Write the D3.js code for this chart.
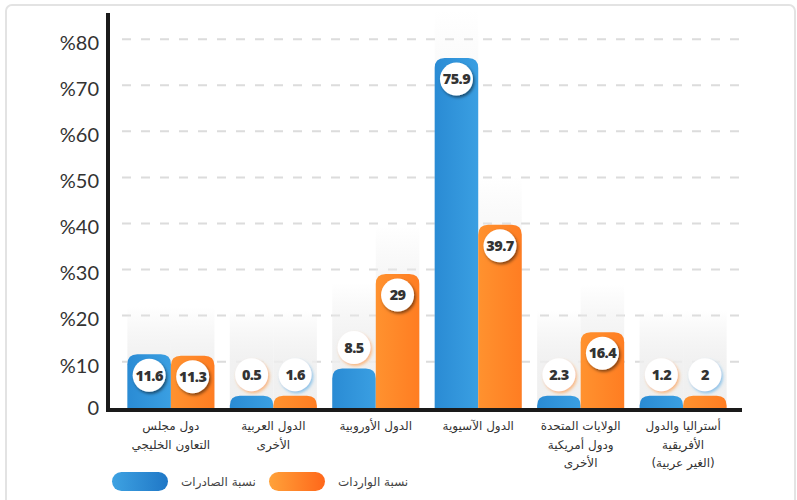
<!DOCTYPE html>
<html>
<head>
<meta charset="utf-8">
<script src="https://cdn.jsdelivr.net/npm/d3@7"></script>
<style>
  body { margin: 0; background: #fff; }
  svg { display: block; }
</style>
</head>
<body>
<div id="chart"></div>
<script>
// data
const categories = [
  ['دول مجلس', 'التعاون الخليجي'],
  ['الدول العربية', 'الأخرى'],
  ['الدول الأوروبية'],
  ['الدول الآسيوية'],
  ['الولايات المتحدة', 'ودول أمريكية', 'الأخرى'],
  ['أستراليا والدول', 'الأفريقية', '(الغير عربية)']
];
const exportsShare = [11.6, 0.5, 8.5, 75.9, 2.3, 1.2];
const importsShare = [11.3, 1.6, 29, 39.7, 16.4, 2];
const seriesNames = ['نسبة الصادرات', 'نسبة الواردات'];
const yTicks = [0, 10, 20, 30, 40, 50, 60, 70, 80];

class GroupedBars {

  constructor(_config) {
    this.config = {
      parentElement: _config.parentElement,
      containerWidth: 797,
      containerHeight: 500,
    }
    this.initVis();
  }

  initVis() {
    let vis = this;

    vis.svg = d3.select(vis.config.parentElement)
      .append('svg')
      .attr('width', vis.config.containerWidth)
      .attr('height', vis.config.containerHeight);

    // scales
    vis.y = d3.scaleLinear().domain([0, 80]).range([407.7, 39.2]);
    vis.x0 = d3.scaleBand().domain(d3.range(categories.length))
      .range([112, 742]).paddingInner(0.15).paddingOuter(0.15);
    vis.x1 = d3.scaleBand().domain([0, 1]).range([0, vis.x0.bandwidth()]);

    // defs
    const defs = vis.svg.append('defs');
    const addGrad = (id, stops, x2, y2) => {
      const g = defs.append('linearGradient').attr('id', id)
        .attr('x1', 0).attr('y1', 0).attr('x2', x2).attr('y2', y2);
      stops.forEach(s => g.append('stop').attr('offset', s[0]).attr('stop-color', s[1]).attr('stop-opacity', s[2] == null ? 1 : s[2]));
    };
    addGrad('barBlue', [[0, '#2a8bd4'], [1, '#3a9fe2']], 1, 0);
    addGrad('barOrange', [[0, '#ff922f'], [1, '#ff7d22']], 1, 0);
    addGrad('pillBlue', [[0, '#3ea2e2'], [1, '#1f77c6']], 1, 0);
    addGrad('pillOrange', [[0, '#ffa23a'], [1, '#ff671a']], 1, 0);
    addGrad('ghost', [[0, '#e8e8e8', 0], [0.5, '#eeeeee', 0.8], [1, '#efefef', 1]], 0, 1);

    const addShadow = (id, color, op) => {
      defs.append('filter').attr('id', id)
        .attr('x', '-50%').attr('y', '-50%').attr('width', '200%').attr('height', '200%')
        .append('feDropShadow').attr('dx', 1.5).attr('dy', 2).attr('stdDeviation', 1.6)
        .attr('flood-color', color).attr('flood-opacity', op);
    };
    addShadow('shadowDark', '#000', 0.5);
    addShadow('shadowBlue', '#3a9fe2', 0.55);
    addShadow('shadowOrange', '#ff8a2c', 0.55);

    // frame
    vis.svg.append('rect')
      .attr('x', 6).attr('y', 5).attr('width', 789).attr('height', 530).attr('rx', 6)
      .attr('fill', 'none').attr('stroke', '#e3e3e3').attr('stroke-width', 2);

    // grid
    vis.svg.append('g').attr('class', 'grid')
      .selectAll('line').data(yTicks.filter(d => d > 0)).join('line')
      .attr('x1', 122).attr('x2', 742)
      .attr('y1', d => vis.y(d)).attr('y2', d => vis.y(d))
      .attr('stroke', '#dcdcdc').attr('stroke-width', 2)
      .attr('stroke-dasharray', '9 10');

    // y axis labels
    const yAxis = d3.axisLeft(vis.y).tickValues(yTicks).tickSize(0).tickPadding(0)
      .tickFormat(d => d === 0 ? '0' : '%' + d);
    const gy = vis.svg.append('g').attr('transform', 'translate(99,0)').call(yAxis);
    gy.select('.domain').remove();
    gy.selectAll('text')
      .attr('font-family', 'Lato, sans-serif').attr('font-size', 20)
      .attr('fill', '#333').attr('direction', 'ltr')
      .attr('dy', d => d === 0 ? '0.32em' : '0.52em');

    // axis lines
    vis.svg.append('line').attr('x1', 108).attr('x2', 108).attr('y1', 13).attr('y2', 412)
      .attr('stroke', '#1a1a1a').attr('stroke-width', 4);

    vis.chart = vis.svg.append('g');

    vis.svg.append('line').attr('x1', 106).attr('x2', 742).attr('y1', 410).attr('y2', 410)
      .attr('stroke', '#1a1a1a').attr('stroke-width', 4);

    // category labels
    const cat = vis.svg.append('g').selectAll('text').data(categories).join('text')
      .attr('text-anchor', 'middle').attr('direction', 'rtl')
      .attr('font-family', 'DejaVu Sans, sans-serif').attr('font-size', 12)
      .attr('fill', '#333')
      .attr('transform', (d, i) => `translate(${vis.x0(i) + vis.x0.bandwidth() / 2}, 430)`);
    cat.selectAll('tspan').data(d => d).join('tspan')
      .attr('x', 0).attr('y', (d, i) => i * 18.5).text(d => d);

    // legend
    const legend = vis.svg.append('g').attr('transform', 'translate(112, 472)');
    const legendItems = [
      {name: seriesNames[0], fill: 'url(#pillBlue)', x: 0},
      {name: seriesNames[1], fill: 'url(#pillOrange)', x: 157}
    ];
    legendItems.forEach(item => {
      legend.append('rect').attr('x', item.x).attr('y', 0).attr('width', 56).attr('height', 19)
        .attr('rx', 9.5).attr('fill', item.fill);
      legend.append('text').text(item.name)
        .attr('x', item.x + 69).attr('y', 9.5).attr('dy', '0.35em')
        .attr('text-anchor', 'start').attr('direction', 'ltr')
        .attr('font-family', 'DejaVu Sans, sans-serif').attr('font-size', 12)
        .attr('fill', '#444');
    });

    vis.renderVis();
  }

  renderVis() {
    let vis = this;
    const y0 = vis.y(0);
    const rows = [];
    categories.forEach((c, i) => {
      [exportsShare[i], importsShare[i]].forEach((v, s) => {
        const h = Math.max(12, y0 - vis.y(v));
        rows.push({i, s, v, h, top: y0 - h, x: vis.x0(i) + vis.x1(s)});
      });
    });
    const bw = vis.x1.bandwidth();
    const r = 16.5;

    rows.forEach(d => {
      d.inside = d.h > 45;
      d.cy = d.inside ? d.top + 21 : d.top - 21;
      d.ghostTop = (d.inside ? d.top : d.cy - r) - 48;
    });

    // ghost columns
    vis.chart.selectAll('.ghost').data(rows).join('rect').attr('class', 'ghost')
      .attr('x', d => d.x).attr('width', bw)
      .attr('y', d => d.ghostTop).attr('height', d => y0 - d.ghostTop)
      .attr('fill', 'url(#ghost)');

    // bars with rounded top corners
    vis.chart.selectAll('.bar').data(rows).join('path').attr('class', 'bar')
      .attr('d', d => {
        const rr = Math.min(10, d.h);
        const x = d.x, w = bw, t = d.top, b = y0 + 1;
        return `M${x},${b}V${t + rr}Q${x},${t} ${x + rr},${t}H${x + w - rr}Q${x + w},${t} ${x + w},${t + rr}V${b}Z`;
      })
      .attr('fill', d => d.s === 0 ? 'url(#barBlue)' : 'url(#barOrange)');

    // value badges
    const badge = vis.chart.selectAll('.badge').data(rows).join('g').attr('class', 'badge')
      .attr('transform', d => `translate(${d.x + bw / 2}, ${d.cy})`);
    badge.append('circle').attr('r', r).attr('fill', '#fff')
      .attr('filter', d => d.inside ? 'url(#shadowDark)' : (d.s === 0 ? 'url(#shadowOrange)' : 'url(#shadowBlue)'));
    badge.append('text').text(d => d.v)
      .attr('text-anchor', 'middle').attr('dy', '0.36em')
      .attr('font-family', 'Open Sans, sans-serif').attr('font-weight', 800)
      .attr('font-size', 14.5).attr('letter-spacing', -0.6)
      .attr('fill', '#333');
  }
}

new GroupedBars({parentElement: '#chart'});
</script>
</body>
</html>
